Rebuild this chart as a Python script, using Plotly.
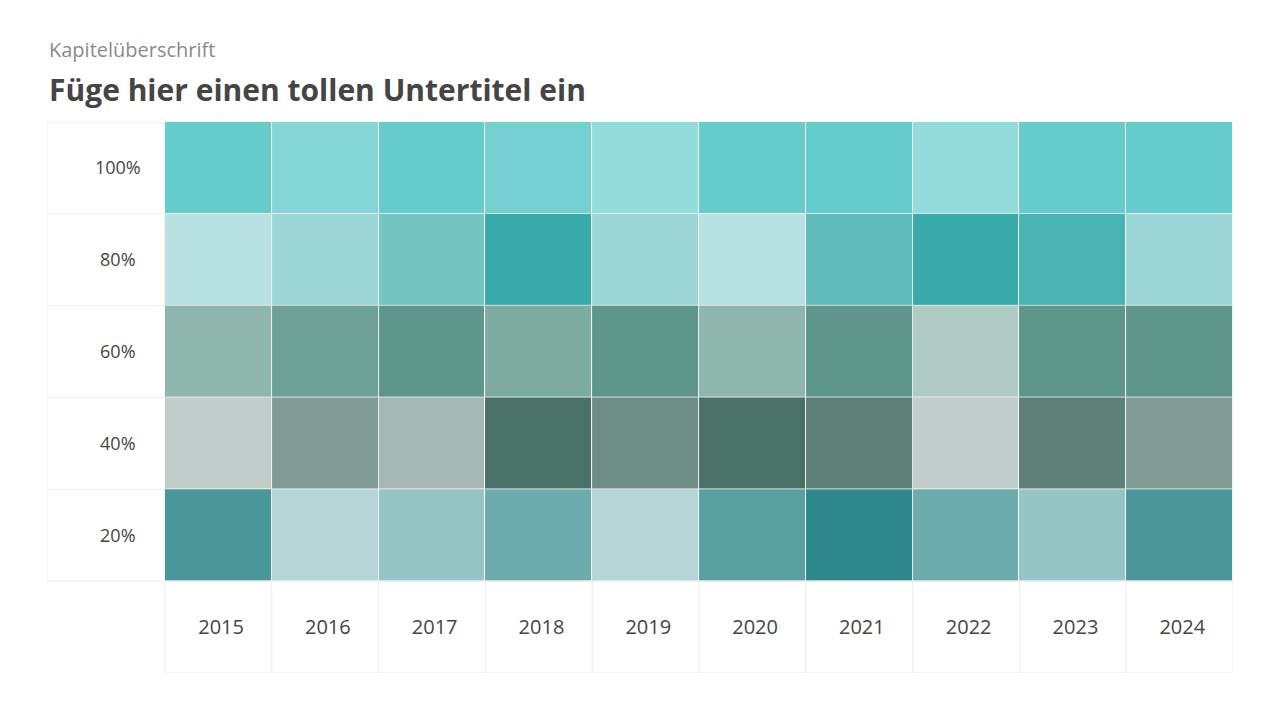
import plotly.graph_objects as go

years = ["2015", "2016", "2017", "2018", "2019", "2020", "2021", "2022", "2023", "2024"]
row_labels = ["20%", "40%", "60%", "80%", "100%"]
row_colors = ["#2E8889", "#4A7168", "#5E9789", "#38AAAA", "#66CCCC"]

# intensity (opacity) of each cell, per row
opac_20 = [0.87, 0.35, 0.5, 0.7, 0.35, 0.8, 1.0, 0.7, 0.5, 0.87]
opac_40 = [0.35, 0.7, 0.5, 1.0, 0.8, 1.0, 0.9, 0.35, 0.9, 0.7]
opac_60 = [0.7, 0.9, 1.0, 0.8, 1.0, 0.7, 1.0, 0.5, 1.0, 1.0]
opac_80 = [0.35, 0.5, 0.7, 1.0, 0.5, 0.35, 0.8, 1.0, 0.9, 0.5]
opac_100 = [1.0, 0.8, 1.0, 0.9, 0.7, 1.0, 1.0, 0.7, 1.0, 1.0]
rows = [opac_20, opac_40, opac_60, opac_80, opac_100]

title = "Füge hier einen tollen Untertitel ein"
kicker = "Kapitelüberschrift"

FONT = "Open Sans"
TXT = "#454545"
GRID = "#ececec"

fig = go.Figure()
xs = list(range(len(years)))
for i, (vals, col) in enumerate(zip(rows, row_colors)):
    fig.add_trace(go.Heatmap(
        x=xs, y=[i], z=[vals],
        colorscale=[[0, "#ffffff"], [1, col]],
        zmin=0, zmax=1, showscale=False, xgap=1, ygap=1,
        hoverinfo="skip",
    ))

label_w = 1.105  # width of label column in column units
x_left = -0.5 - label_w
label_x = -0.5 - label_w * 0.4

fig.add_trace(go.Scatter(
    x=[label_x] * len(row_labels), y=[i - 0.02 for i in range(len(row_labels))],
    text=row_labels, mode="text", textposition="middle center",
    textfont=dict(family=FONT, size=18, color=TXT), hoverinfo="skip", showlegend=False,
))
fig.add_trace(go.Scatter(
    x=[x + 0.025 for x in xs], y=[-1.02] * len(years), text=years, mode="text",
    textposition="middle center",
    textfont=dict(family=FONT, size=20, color=TXT), hoverinfo="skip", showlegend=False,
))

nrows = len(row_labels)
ncols = len(years)
shapes = []
line = dict(color=GRID, width=1)
shapes.append(dict(type="line", x0=x_left, x1=x_left, y0=-0.5, y1=nrows - 0.5, line=line, layer="below"))
for i in range(ncols + 1):
    xv = -0.5 + i
    shapes.append(dict(type="line", x0=xv, x1=xv, y0=-1.5, y1=nrows - 0.5, line=line, layer="below"))
for j in range(nrows + 1):
    yv = -0.5 + j
    shapes.append(dict(type="line", x0=x_left, x1=ncols - 0.5, y0=yv, y1=yv, line=line, layer="below"))
shapes.append(dict(type="line", x0=-0.5, x1=ncols - 0.5, y0=-1.5, y1=-1.5, line=line, layer="below"))

fig.update_layout(
    width=1280, height=720,
    margin=dict(l=39, r=55, t=114, b=55),
    paper_bgcolor="white", plot_bgcolor="white",
    showlegend=False,
    xaxis=dict(range=[x_left, ncols - 0.5], visible=False, fixedrange=True),
    yaxis=dict(range=[-1.5, nrows - 0.5], visible=False, fixedrange=True),
    shapes=shapes,
    annotations=[
        dict(text=kicker, xref="paper", yref="paper", x=0, y=1, xanchor="left", yanchor="middle",
             yshift=73, showarrow=False, font=dict(family=FONT, size=20, color="#8a8a8a")),
        dict(text="<b>" + title + "</b>", xref="paper", yref="paper", x=0, y=1, xanchor="left",
             yanchor="middle", yshift=33, showarrow=False, font=dict(family=FONT, size=30, color=TXT)),
    ],
)

fig.write_html("out.html")
